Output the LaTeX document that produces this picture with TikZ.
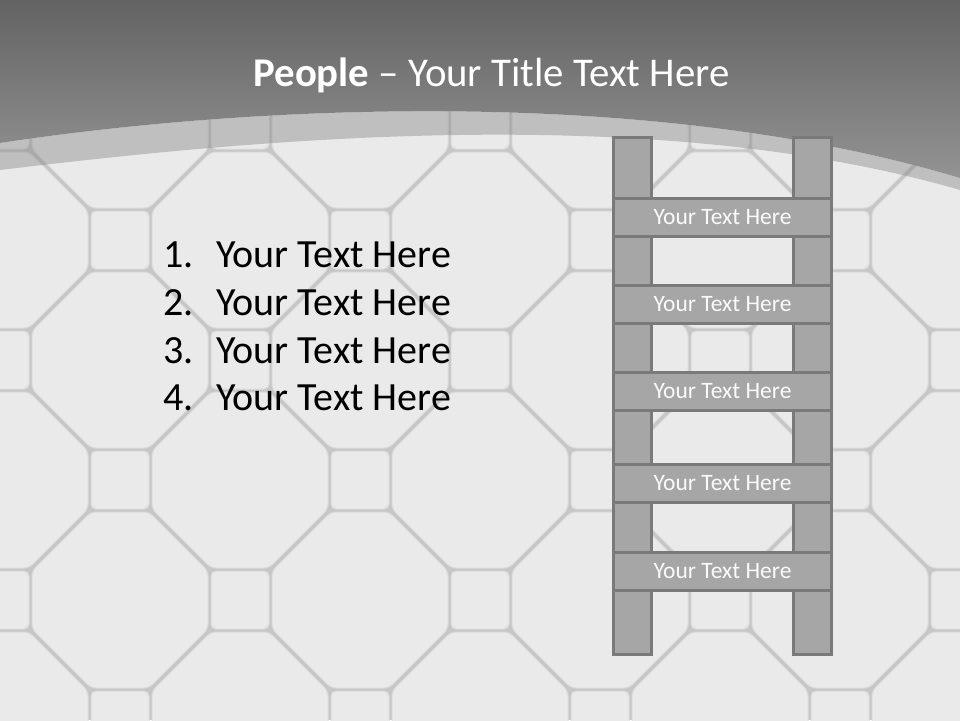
\documentclass[tikz,border=0pt]{standalone}
\usepackage{fontspec}
\setmainfont{Carlito}
\definecolor{groutc}{HTML}{C6C6C6}
\definecolor{tilec}{HTML}{EAEAEA}
\definecolor{tileedge}{HTML}{DCDCDC}
\definecolor{hdrtop}{HTML}{636363}
\definecolor{hdrbot}{HTML}{939393}
\definecolor{bandc}{HTML}{808080}
\definecolor{ladderf}{HTML}{A6A6A6}
\definecolor{laddere}{HTML}{7A7A7A}
\definecolor{rungtext}{HTML}{FAFAFA}
\begin{document}
\begin{tikzpicture}[x=1pt,y=-1pt,
  tile/.style={fill=tilec, draw=tileedge, line width=1pt, rounded corners=5pt},
  rail/.style={draw=laddere, fill=ladderf, line width=3pt, minimum width=38pt, minimum height=517.5pt, inner sep=0pt, outer sep=0pt, anchor=north west},
  rung/.style={draw=laddere, fill=ladderf, line width=3pt, minimum width=218pt, minimum height=38pt, inner sep=0pt, outer sep=0pt, text=rungtext, font=\fontsize{23.5}{27}\selectfont},
  item/.style={anchor=base west, inner sep=0pt, font=\fontsize{40}{46}\selectfont, text=black},
  titlestyle/.style={anchor=base, inner sep=0pt, text=white, font=\fontsize{40.8}{48}\selectfont}]
\useasboundingbox (0,0) rectangle (960,720);
% background grout
\fill[groutc] (0,0) rectangle (960,720);
% tiles
\begin{scope}
\clip (0,0) rectangle (960,720);
\foreach \m in {0,...,8} {
  \foreach \n in {0,...,6} {
    \pgfmathtruncatemacro\pp{mod(\m+\n,2)}
    \ifnum\pp=0
      \draw[tile, shift={(\m*120,\n*120)}] (88,29) -- (29,88) -- (-29,88) -- (-88,29) -- (-88,-29) -- (-29,-88) -- (29,-88) -- (88,-29) -- cycle;
    \else
      \draw[tile, shift={(\m*120,\n*120)}] (-29,-29) rectangle (29,29);
    \fi
  }
}
\end{scope}
% translucent band
\fill[bandc, opacity=0.4] (0,170) .. controls (250,140) and (650,100) .. (960,190) -- (960,178) .. controls (650,85) and (250,105) .. (0,143) -- cycle;
% header
\shade[top color=hdrtop, bottom color=hdrbot] (0,0) -- (960,0) -- (960,178) .. controls (650,85) and (250,105) .. (0,143) -- cycle;
\node[titlestyle] (title) at (491.5,86) {\textbf{People} – Your Title Text Here};
% list
\node[item] (n1) at (163,267) {1.};
\node[item] (t1) at (216,267) {Your Text Here};
\node[item] (n2) at (163,315) {2.};
\node[item] (t2) at (216,315) {Your Text Here};
\node[item] (n3) at (163,363) {3.};
\node[item] (t3) at (216,363) {Your Text Here};
\node[item] (n4) at (163,410) {4.};
\node[item] (t4) at (216,410) {Your Text Here};
% ladder
\node[rail] (railL) at (613.5,137) {};
\node[rail] (railR) at (793.5,137) {};
\node[rung] (r1) at (722.5,217.5) {Your Text Here};
\node[rung] (r2) at (722.5,304.5) {Your Text Here};
\node[rung] (r3) at (722.5,391.5) {Your Text Here};
\node[rung] (r4) at (722.5,483.5) {Your Text Here};
\node[rung] (r5) at (722.5,571.5) {Your Text Here};
\end{tikzpicture}
\end{document}
